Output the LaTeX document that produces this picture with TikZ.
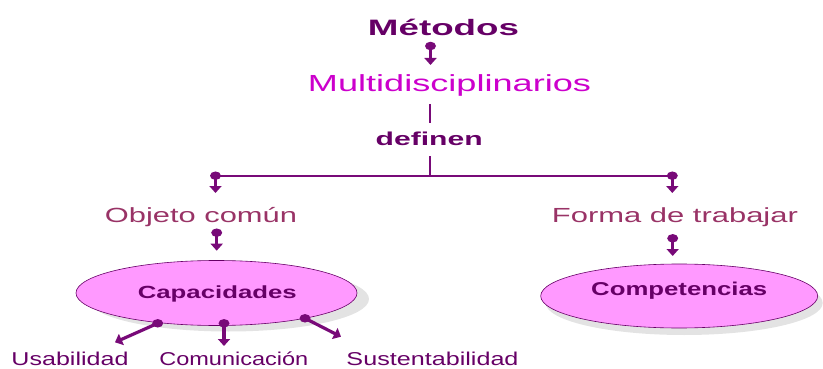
\documentclass[tikz,border=0pt]{standalone}
\usepackage{fontspec}
\setmainfont{Liberation Sans}
\usetikzlibrary{shapes.geometric,shadows,arrows.meta}
\definecolor{dpurple}{HTML}{660066}
\definecolor{lpurple}{HTML}{780A78}
\definecolor{magen}{HTML}{CC00CC}
\definecolor{mauve}{HTML}{993366}
\definecolor{pinkfill}{HTML}{FF99FF}
\newcommand{\fitw}[3]{\resizebox{#1pt}{\height}{\fontsize{#2}{#2}\selectfont #3}}
\begin{document}
\begin{tikzpicture}[x=1pt,y=-1pt,
  txt/.style={inner sep=0pt, anchor=base},
  balarrow/.style={draw=lpurple, line width=3.2pt, -{Triangle[width=12pt,length=7pt]}},
  ball/.style={ellipse, fill=lpurple, inner sep=0pt, minimum width=11pt, minimum height=8.5pt},
  conn/.style={draw=lpurple, line width=2pt},
  oval/.style={ellipse, draw=dpurple, line width=0.6pt, fill=pinkfill, inner sep=0pt}]
\useasboundingbox (0,0) rectangle (823,369);

% ovals
\node[oval, minimum width=281pt, minimum height=65pt,
  drop shadow={shadow xshift=12pt, shadow yshift=-6pt, fill=black!22}] (cap) at (216.5,293) {};
\node[oval, minimum width=277pt, minimum height=64pt,
  drop shadow={shadow xshift=5pt, shadow yshift=-7pt, fill=black!22}] (comp) at (679.2,296) {};

% texts
\node[txt, text=dpurple, font=\bfseries] (metodos) at (443.5,36) {\fitw{151}{22.3}{Métodos}};
\node[txt, text=magen] (multi) at (449.5,92) {\fitw{283}{23.3}{Multidisciplinarios}};
\node[txt, text=dpurple, font=\bfseries] (definen) at (429.2,145.7) {\fitw{107}{18.7}{definen}};
\node[txt, text=mauve] (objeto) at (201,222.7) {\fitw{192}{20.5}{Objeto común}};
\node[txt, text=mauve] (forma) at (674.9,222.3) {\fitw{246}{20.4}{Forma de trabajar}};
\node[txt, text=dpurple, font=\bfseries] (captxt) at (217.3,298.3) {\fitw{159}{17.6}{Capacidades}};
\node[txt, text=dpurple, font=\bfseries] (comptxt) at (679.2,295) {\fitw{176}{18.6}{Competencias}};
\node[txt, text=dpurple] (usab) at (70,365) {\fitw{117}{18.6}{Usabilidad}};
\node[txt, text=dpurple] (comun) at (233.8,365) {\fitw{149}{18.6}{Comunicación}};
\node[txt, text=dpurple] (sust) at (432.5,365) {\fitw{172}{18.6}{Sustentabilidad}};

% tree lines
\coordinate (v1) at (429.7,104);
\coordinate (v2) at (429.7,123);
\coordinate (v3) at (429.7,156);
\coordinate (v4) at (429.7,175.7);
\coordinate (hl) at (215,175.7);
\coordinate (hr) at (672,175.7);
\draw[conn] (v1) -- (v2);
\draw[conn] (v3) -- (v4);
\draw[conn] (hl) -- (hr);

% ball arrows
\node[ball] (b1) at (430.5,46) {};
\coordinate (e1) at (430.5,65);
\draw[balarrow] (b1.center) -- (e1);

\node[ball] (b2) at (215.5,175.7) {};
\coordinate (e2) at (215.5,193);
\draw[balarrow] (b2.center) -- (e2);

\node[ball] (b3) at (672.3,175.7) {};
\coordinate (e3) at (672.3,193);
\draw[balarrow] (b3.center) -- (e3);

\node[ball] (b4) at (216.7,232.7) {};
\coordinate (e4) at (216.7,250.7);
\draw[balarrow] (b4.center) -- (e4);

\node[ball] (b5) at (672.7,238.3) {};
\coordinate (e5) at (672.7,256);
\draw[balarrow] (b5.center) -- (e5);

\node[ball] (b6) at (157.7,323.3) {};
\coordinate (e6) at (115,342.3);
\draw[balarrow] (b6.center) -- (e6);

\node[ball] (b7) at (224,323.3) {};
\coordinate (e7) at (224,346);
\draw[balarrow] (b7.center) -- (e7);

\node[ball] (b8) at (305,318.3) {};
\coordinate (e8) at (341,336.7);
\draw[balarrow] (b8.center) -- (e8);
\end{tikzpicture}
\end{document}
